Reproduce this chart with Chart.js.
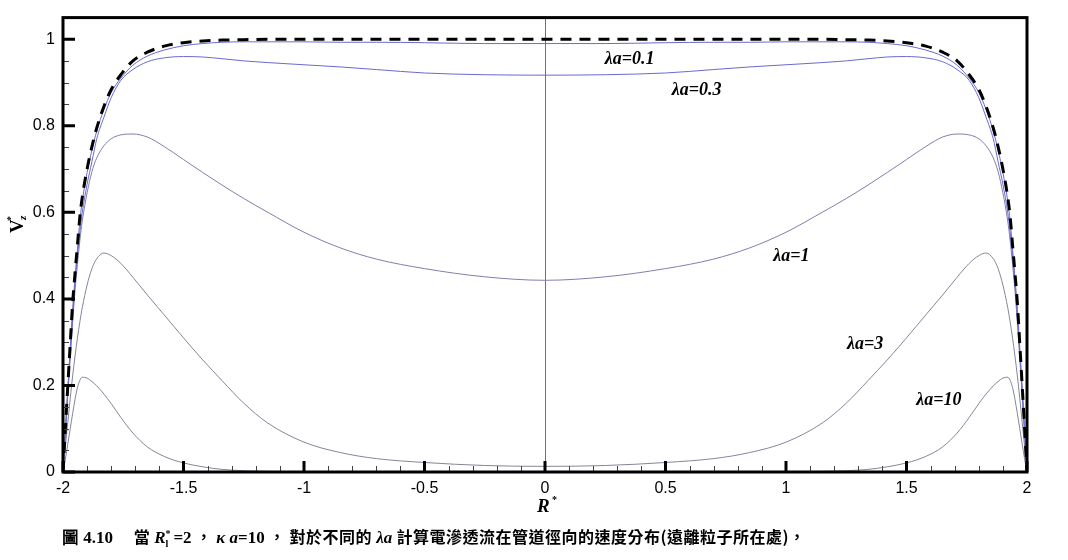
<!DOCTYPE html>
<html>
<head>
<meta charset="utf-8">
<script src="https://cdn.jsdelivr.net/npm/chart.js@4.4.1/dist/chart.umd.min.js"></script>
<style>
  html, body { margin: 0; padding: 0; background: #fff; }
  #wrap { position: relative; width: 1068px; height: 560px; }
  #chart { position: absolute; left: 0; top: 0; }
  #caption {
    position: absolute; left: 62px; top: 524px;
    font-family: "Noto Sans CJK TC", sans-serif; font-weight: 700; font-size: 16px;
    white-space: nowrap; color: #000; letter-spacing: 0.5px;
  }
  #caption .tn { font-family: "Liberation Serif", serif; font-weight: 700; font-size: 17px; letter-spacing: 0; }
  #caption .sm { font-size: 10px; position: relative; }
</style>
</head>
<body>
<div id="wrap">
  <canvas id="chart" width="1068" height="560"></canvas>
  <div id="caption"><span class="tn">圖 4.10</span>　 當 <span class="tn"><i>R</i><span class="sm" style="top:4px">l</span><span class="sm" style="top:-6px;left:-3px">*</span>=2</span> ， <span class="tn"><i>κ a</i>=10</span> ， 對於不同的 <span class="tn"><i>λa</i></span>  計算電滲透流在管道徑向的速度分布(遠離粒子所在處)，</div>
</div>
<script>
// Data
const rGrid = [-2, -1.99, -1.98, -1.97, -1.96, -1.95, -1.94, -1.93, -1.92, -1.9, -1.88, -1.86, -1.83, -1.8, -1.76, -1.71, -1.65, -1.58,
  -1.5, -1.42, -1.34, -1.25, -1.15, -1, -0.85, -0.7, -0.5, -0.25, 0,
  0.25, 0.5, 0.7, 0.85, 1, 1.15, 1.25, 1.34, 1.42, 1.5,
  1.58, 1.65, 1.71, 1.76, 1.8, 1.83, 1.86, 1.88, 1.9, 1.92, 1.93, 1.94, 1.95, 1.96, 1.97, 1.98, 1.99, 2];

// dashed reference profile
const vBase = [0, 0.102, 0.2, 0.296, 0.39, 0.46, 0.525, 0.59, 0.635, 0.7, 0.752, 0.795, 0.845, 0.884, 0.918, 0.95, 0.97, 0.984,
  0.992, 0.996, 0.998, 0.999, 1, 1, 1, 1, 1, 1, 1,
  1, 1, 1, 1, 1, 1, 0.999, 0.998, 0.996, 0.992,
  0.984, 0.97, 0.95, 0.918, 0.884, 0.845, 0.795, 0.752, 0.7, 0.635, 0.59, 0.525, 0.46, 0.39, 0.296, 0.2, 0.102, 0];
const vLa01 = [0, 0.098, 0.194, 0.287, 0.376, 0.45, 0.515, 0.58, 0.626, 0.692, 0.744, 0.788, 0.838, 0.877, 0.91, 0.94, 0.961, 0.975,
  0.985, 0.99, 0.993, 0.994, 0.994, 0.994, 0.993, 0.993, 0.992, 0.99, 0.99,
  0.99, 0.992, 0.993, 0.993, 0.994, 0.994, 0.994, 0.993, 0.99, 0.985,
  0.975, 0.961, 0.94, 0.91, 0.877, 0.838, 0.788, 0.744, 0.692, 0.626, 0.58, 0.515, 0.45, 0.376, 0.287, 0.194, 0.098, 0];
const vLa03 = [0, 0.095, 0.187, 0.276, 0.36, 0.435, 0.5, 0.555, 0.6, 0.665, 0.717, 0.77, 0.82, 0.865, 0.905, 0.93, 0.948, 0.957,
  0.96, 0.959, 0.955, 0.95, 0.946, 0.941, 0.936, 0.93, 0.922, 0.918, 0.917,
  0.918, 0.922, 0.93, 0.936, 0.941, 0.946, 0.95, 0.955, 0.959, 0.96,
  0.957, 0.948, 0.93, 0.905, 0.865, 0.82, 0.77, 0.717, 0.665, 0.6, 0.555, 0.5, 0.435, 0.36, 0.276, 0.187, 0.095, 0];
const vLa1 = [0, 0.09, 0.178, 0.263, 0.345, 0.42, 0.48, 0.535, 0.58, 0.645, 0.694, 0.726, 0.754, 0.77, 0.779, 0.781, 0.774, 0.752,
  0.722, 0.692, 0.663, 0.632, 0.6, 0.554, 0.518, 0.492, 0.47, 0.451, 0.443,
  0.451, 0.47, 0.492, 0.518, 0.554, 0.6, 0.632, 0.663, 0.692, 0.722,
  0.752, 0.774, 0.781, 0.779, 0.77, 0.754, 0.726, 0.694, 0.645, 0.58, 0.535, 0.48, 0.42, 0.345, 0.263, 0.178, 0.09, 0];
const vLa3 = [0, 0.06, 0.115, 0.17, 0.222, 0.268, 0.31, 0.347, 0.38, 0.432, 0.47, 0.493, 0.506, 0.5, 0.482, 0.45, 0.409, 0.363,
  0.31, 0.259, 0.211, 0.159, 0.113, 0.069, 0.045, 0.031, 0.022, 0.015, 0.013,
  0.015, 0.022, 0.031, 0.045, 0.069, 0.113, 0.159, 0.211, 0.259, 0.31,
  0.363, 0.409, 0.45, 0.482, 0.5, 0.506, 0.493, 0.47, 0.432, 0.38, 0.347, 0.31, 0.268, 0.222, 0.17, 0.115, 0.06, 0];
const vLa10 = [0, 0.03, 0.065, 0.1, 0.135, 0.168, 0.195, 0.212, 0.219, 0.217, 0.209, 0.199, 0.18, 0.158, 0.126, 0.09, 0.058, 0.036,
  0.021, 0.012, 0.006, 0.003, 0.0015, 0.0005, 0, 0, 0, 0, 0,
  0, 0, 0, 0, 0.0005, 0.0015, 0.003, 0.006, 0.012, 0.021,
  0.036, 0.058, 0.09, 0.126, 0.158, 0.18, 0.199, 0.209, 0.217, 0.219, 0.212, 0.195, 0.168, 0.135, 0.1, 0.065, 0.03, 0];

const curveLabels = ["λa=0.1", "λa=0.3", "λa=1", "λa=3", "λa=10"];
const xTickValues = [-2, -1.5, -1, -0.5, 0, 0.5, 1, 1.5, 2];
const xTickLabels = ["-2", "-1.5", "-1", "-0.5", "0", "0.5", "1", "1.5", "2"];
const yTickValues = [0, 0.2, 0.4, 0.6, 0.8, 1];
const yTickLabels = ["0", "0.2", "0.4", "0.6", "0.8", "1"];

// where the curve labels sit (data coords)
const labelSpots = [[0.351, 0.954], [0.629, 0.883], [1.022, 0.499], [1.328, 0.296], [1.634, 0.166]];

const toPoints = (ys) => rGrid.map((r, i) => ({ x: r, y: ys[i] }));

function line(values, color, width, dash) {
  return {
    data: toPoints(values),
    showLine: true,
    borderColor: color,
    borderWidth: width,
    borderDash: dash || [],
    pointRadius: 0,
    cubicInterpolationMode: "monotone",
  };
}

const frameAndTicks = {
  id: "frameAndTicks",
  beforeDatasetsDraw(chart) {
    // center line at R*=0
    const { ctx, chartArea, scales } = chart;
    const x0 = scales.x.getPixelForValue(0);
    ctx.save();
    ctx.strokeStyle = "#6c6c90";
    ctx.lineWidth = 1;
    ctx.beginPath();
    ctx.moveTo(Math.round(x0) + 0.5, chartArea.bottom);
    ctx.lineTo(Math.round(x0) + 0.5, chartArea.top);
    ctx.stroke();
    ctx.restore();
  },
  afterDatasetsDraw(chart) {
    const { ctx, chartArea, scales } = chart;
    const { left, right, top, bottom } = chartArea;
    ctx.save();
    // minor ticks
    ctx.strokeStyle = "#444";
    ctx.lineWidth = 1;
    ctx.beginPath();
    for (let v = 0.05; v < 1.04; v += 0.05) {
      const y = Math.round(scales.y.getPixelForValue(v)) + 0.5;
      ctx.moveTo(left, y);
      ctx.lineTo(left + 6, y);
    }
    for (let v = -1.9; v < 2; v += 0.1) {
      const x = Math.round(scales.x.getPixelForValue(v)) + 0.5;
      ctx.moveTo(x, bottom);
      ctx.lineTo(x, bottom - 6);
    }
    ctx.stroke();
    // major ticks
    ctx.strokeStyle = "#000";
    ctx.lineWidth = 3;
    ctx.beginPath();
    yTickValues.forEach((v) => {
      const y = scales.y.getPixelForValue(v);
      ctx.moveTo(left, y);
      ctx.lineTo(left + 12, y);
    });
    xTickValues.forEach((v) => {
      const x = scales.x.getPixelForValue(v);
      ctx.moveTo(x, bottom);
      ctx.lineTo(x, bottom - 11);
    });
    ctx.stroke();
    // frame
    ctx.lineWidth = 3;
    ctx.strokeRect(left, top, right - left, bottom - top);

    // curve labels
    ctx.fillStyle = "#000";
    ctx.font = "italic bold 18px 'Liberation Serif'";
    ctx.textAlign = "center";
    ctx.textBaseline = "middle";
    curveLabels.forEach((txt, i) => {
      const [lx, ly] = labelSpots[i];
      ctx.fillText(txt, scales.x.getPixelForValue(lx), scales.y.getPixelForValue(ly));
    });

    // x axis title R*
    ctx.textBaseline = "alphabetic";
    ctx.textAlign = "left";
    ctx.font = "italic bold 19px 'Liberation Serif'";
    const cx = scales.x.getPixelForValue(0);
    ctx.fillText("R", cx - 8, 512);
    ctx.font = "bold 10px 'Liberation Serif'";
    ctx.fillText("*", cx + 7, 503);

    // y axis title V*z
    ctx.translate(23, 233);
    ctx.rotate(-Math.PI / 2);
    ctx.font = "bold 19px 'Liberation Serif'";
    ctx.fillText("V", 0, 0);
    ctx.font = "bold 10px 'Liberation Serif'";
    ctx.fillText("*", 12, -9);
    ctx.font = "italic bold 11px 'Liberation Serif'";
    ctx.fillText("z", 13, 3);
    ctx.restore();
  },
};

new Chart(document.getElementById("chart"), {
  type: "scatter",
  data: {
    datasets: [
      line(vBase, "#000000", 3, [11, 8]),
      line(vLa01, "#6a6ad0", 1),
      line(vLa03, "#6a6ad0", 1),
      line(vLa1, "#7f7fb0", 1),
      line(vLa3, "#85859a", 1),
      line(vLa10, "#85859a", 1),
    ],
  },
  options: {
    responsive: false,
    animation: false,
    layout: { padding: { left: 0, right: 41, top: 13, bottom: 53 } },
    plugins: { legend: { display: false }, tooltip: { enabled: false } },
    scales: {
      x: {
        type: "linear",
        min: -2,
        max: 2,
        grid: { display: false, drawTicks: false },
        border: { display: false },
        afterBuildTicks: (s) => { s.ticks = xTickValues.map((v) => ({ value: v })); },
        afterFit: (s) => { s.height = 35; },
        ticks: {
          padding: 7,
          color: "#000",
          font: { family: "'Liberation Sans'", size: 16 },
          callback: (v) => xTickLabels[xTickValues.indexOf(v)],
        },
      },
      y: {
        type: "linear",
        min: 0,
        max: 1.05,
        grid: { display: false, drawTicks: false },
        border: { display: false },
        afterBuildTicks: (s) => { s.ticks = yTickValues.map((v) => ({ value: v })); },
        afterFit: (s) => { s.width = 63; },
        ticks: {
          padding: 8,
          color: "#000",
          font: { family: "'Liberation Sans'", size: 16 },
          callback: (v) => yTickLabels[yTickValues.indexOf(v)],
        },
      },
    },
  },
  plugins: [frameAndTicks],
});
</script>
</body>
</html>
